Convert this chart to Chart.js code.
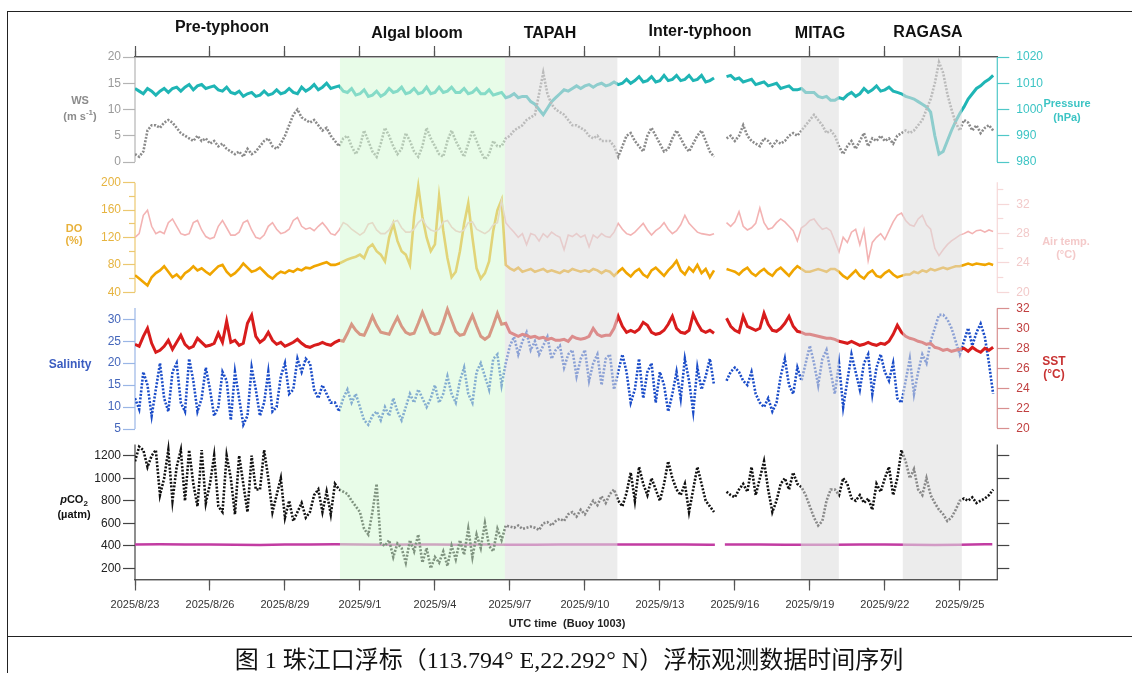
<!DOCTYPE html>
<html>
<head>
<meta charset="utf-8">
<script src="https://cdn.jsdelivr.net/npm/chart.js@4.4.1/dist/chart.umd.min.js"></script>
<style>
  html, body { margin: 0; padding: 0; background: #fff; }
  #wrap { position: relative; width: 1132px; height: 673px; overflow: hidden;
          font-family: "Liberation Sans", Arial, sans-serif; }
  #c { position: absolute; left: 0; top: 0; }
  .frame { position: absolute; left: 7px; top: 11px; width: 1150px; height: 700px;
           border: 1.5px solid #222; box-sizing: border-box; }
  .sep { position: absolute; left: 7px; top: 636px; width: 1140px; border-top: 1.5px solid #222; }
  .t { position: absolute; transform: translate(-50%, -50%); white-space: nowrap; text-align: center; }
  .title { font-weight: bold; font-size: 16px; color: #111; }
  .lab { font-weight: bold; font-size: 11px; }
  .cap { font-family: "Liberation Serif", "Noto Sans CJK SC", serif; font-size: 24px; color: #111; }
  sup, sub { font-size: 8px; line-height: 0; }
</style>
</head>
<body>
<div id="wrap">
  <canvas id="c" width="1132" height="673"></canvas>
  <div class="frame"></div>
  <div class="sep"></div>

  <div class="t title" style="left:222px;top:27px">Pre-typhoon</div>
  <div class="t title" style="left:417px;top:33px">Algal bloom</div>
  <div class="t title" style="left:550px;top:33px">TAPAH</div>
  <div class="t title" style="left:700px;top:31px">Inter-typhoon</div>
  <div class="t title" style="left:820px;top:33px">MITAG</div>
  <div class="t title" style="left:928px;top:32px">RAGASA</div>

  <div class="t lab" style="left:80px;top:108px;line-height:16px;color:#8c8c8c">WS<br>(m s<sup>-1</sup>)</div>
  <div class="t lab" style="left:74px;top:234px;line-height:12px;color:#e8b13a">DO<br>(%)</div>
  <div class="t lab" style="left:70px;top:364px;font-size:12px;color:#3a5cc0">Salinity</div>
  <div class="t lab" style="left:74px;top:507px;line-height:15px;color:#111"><i>p</i>CO<sub>2</sub><br>(µatm)</div>
  <div class="t lab" style="left:1067px;top:110px;line-height:14px;color:#3cc4c4">Pressure<br>(hPa)</div>
  <div class="t lab" style="left:1066px;top:248px;line-height:13px;color:#f4caca">Air temp.<br>(°C)</div>
  <div class="t lab" style="left:1054px;top:368px;line-height:13px;font-size:12px;color:#c83232">SST<br>(°C)</div>
  <div class="t lab" style="left:567px;top:623px;color:#222">UTC time&nbsp;&nbsp;(Buoy 1003)</div>

  <div class="t cap" style="left:569px;top:657px">图 1 珠江口浮标（113.794° E,22.292° N）浮标观测数据时间序列</div>
</div>

<script>
// ── Axes / ticks ────────────────────────────────────────────────
const X_TICK_DAYS   = [0, 3, 6, 9, 12, 15, 18, 21, 24, 27, 30, 33];
const X_TICK_LABELS = ["2025/8/23", "2025/8/26", "2025/8/29", "2025/9/1", "2025/9/4", "2025/9/7",
                       "2025/9/10", "2025/9/13", "2025/9/16", "2025/9/19", "2025/9/22", "2025/9/25"];
const DAY_TICKS   = Array.from({ length: 35 }, (_, i) => i);
const WS_TICKS    = [0, 5, 10, 15, 20];
const PRES_TICKS  = [980, 990, 1000, 1010, 1020];
const DO_TICKS    = [40, 80, 120, 160, 200];
const DO_MINOR    = [60, 100, 140, 180];
const AIR_TICKS   = [20, 24, 28, 32];
const AIR_MINOR   = [22, 26, 30, 34];
const SAL_TICKS   = [5, 10, 15, 20, 25, 30];
const SST_TICKS   = [20, 22, 24, 26, 28, 30, 32];
const PCO2_TICKS  = [200, 400, 600, 800, 1000, 1200];

// ── Event periods (days since 2025/8/23 00:00 UTC) ──────────────
const PERIOD_START = [8.2, 14.8, 26.64, 30.72];
const PERIOD_END   = [14.8, 19.3, 28.16, 33.08];
const PERIOD_KIND  = ["bloom", "typhoon", "typhoon", "typhoon"];

// ── Series, one sample every 4 h, one row per day (null = gap) ──
const WS = [
  1.5, 1, 2, 6, 7, 7,
  6.5, 7.5, 8, 7.5, 6.5, 5.5,
  5, 4.5, 4, 5, 4, 4.5,
  3.5, 4, 3, 3.5, 2.5, 2,
  1.5, 2, 1, 2.5, 1.5, 2,
  3, 4, 4.5, 3, 2.5, 3.5,
  5, 7, 9, 10, 8.5, 8,
  7.5, 8, 7, 6, 6.5, 5,
  4, 3, 4.5, 5, 3, 1.5,
  3, 6, 4, 2, 1, 3.5,
  6.5, 5, 3, 1.5, 2.5, 5.5,
  4, 2, 1, 3, 6.5, 4.5,
  3, 1.5, 1, 4, 6, 4,
  2.5, 1, 3.5, 6, 4, 2,
  0.5, 1.5, 4, 3, 3, 4.5,
  5, 6, 6.5, 7, 8, 8.5,
  9, 13, 17, 13, 11, 10,
  9.5, 9, 8, 7, 7, 6.5,
  6, 5, 4.5, 5, 4, 4,
  4, 3, 1, 3, 5, 5.5,
  4, 3, 2, 5, 6.5, 5,
  3.5, 2, 2.5, 4.5, 6, 4.5,
  3, 2, 3.5, 5, 6, 4,
  2, 1, null, null, 4.5, 5,
  4, 5, 7, 5, 4, 3.5,
  3, 4.5, 4, 3, 4, 3.5,
  4, 5, 5.5, 5, 6, 7,
  8, 9, 8, 7, 5.5, 6,
  5, 3, 1.5, 3, 4, 2.5,
  4, 5.5, 3, 4.5, 4, 5,
  4, 4.5, 3.5, 5, 5.5, 6,
  5.5, 6, 7, 8, 10, 12,
  15, 19, 17, 13, 10, 7.5,
  6, 8, 7.5, 6, 7, 5.5,
  6.5, 7, 6,
];

const PRESSURE = [
  1008, 1007, 1006, 1008, 1007, 1005.5,
  1007, 1008, 1006.5, 1008, 1008.5, 1007,
  1008.5, 1009.5, 1007.5, 1009, 1009.5, 1008,
  1008.5, 1009, 1007.5, 1007, 1008.5, 1006.5,
  1006, 1007, 1005, 1006, 1006.5, 1005,
  1005.5, 1007, 1005.5, 1006, 1007.5, 1006,
  1006.5, 1008, 1006.5, 1006, 1008.5, 1007,
  1008, 1009.5, 1007.5, 1008.5, 1010, 1008,
  1008.5, 1009, 1007, 1006.5, 1008, 1005.5,
  1006, 1007.5, 1005, 1005.5, 1007, 1005,
  1006, 1008, 1006.5, 1007, 1008.5, 1006,
  1006.5, 1008, 1006, 1006.5, 1008.5, 1006,
  1006.5, 1008.5, 1006.5, 1007, 1008.5, 1006.5,
  1006.5, 1008, 1006, 1006.5, 1008, 1006,
  1006, 1007.5, 1005.5, 1006, 1006.5, 1004.5,
  1005, 1006, 1004.5, 1005, 1005, 1003,
  1002, 1000, 998, 1000.5, 1003, 1004.5,
  1006, 1007.5, 1007, 1008, 1009, 1008,
  1009, 1009.5, 1008.5, 1009.5, 1010, 1009,
  1009.5, 1010.5, 1009.5, 1010, 1011.5, 1010,
  1011, 1012.5, 1010.5, 1011, 1012.5, 1010.5,
  1011, 1013, 1011, 1011.5, 1013, 1011,
  1011.5, 1013, 1011, 1011.5, 1013, 1010.5,
  1011, 1012, null, null, 1012.5, 1013,
  1011.5, 1012, 1010.5, 1011, 1011.5, 1009.5,
  1010, 1010.5, 1009, 1009.5, 1010, 1008,
  1008.5, 1009, 1007.5, 1007.5, 1008, 1006.5,
  1006.5, 1006.5, 1005, 1004.5, 1005, 1003.5,
  1003.5, 1004.5, 1004, 1005.5, 1006.5, 1005,
  1006, 1008, 1006.5, 1007.5, 1009, 1007,
  1007.5, 1008.5, 1007, 1006.5, 1006, 1005,
  1004.5, 1004, 1003, 1002, 1001, 999,
  990, 983, 984, 988, 992, 995.5,
  998.5, 1001, 1004, 1006, 1008, 1009,
  1010.5, 1011.5, 1013,
];

const DO = [
  65, 60, 55, 50, 62, 68,
  72, 78, 70, 62, 66, 60,
  68, 72, 78, 72, 75, 70,
  66, 72, 78, 80, 70, 64,
  68, 74, 82, 76, 70, 72,
  76, 70, 64, 60, 66, 70,
  68, 72, 70, 74, 72, 76,
  75, 78, 80, 82, 84, 80,
  80, 82, 85, 88, 90, 92,
  95, 90, 105, 110, 100, 95,
  85, 120, 140, 115, 100, 95,
  80, 150, 195, 150, 120, 100,
  110, 180, 130, 90, 62, 70,
  100, 140, 170, 120, 75, 60,
  68, 85, 130, 160, 175, 80,
  75, 72, 76, 70, 72, 74,
  70, 72, 74, 70, 72, 70,
  68, 72, 70, 74, 72, 70,
  72, 70, 74, 72, 68, 72,
  70, 64, 70, 75, 68, 63,
  70, 74, 66, 62, 72, 76,
  70, 64, 72, 78, 86, 72,
  66, 76, 70, 80, 68, 74,
  62, 72, null, null, 74, 72,
  70, 66, 72, 76, 68, 64,
  70, 74, 68, 64, 72, 76,
  70, 64, 72, 78, 74, 70,
  70, 72, 74, 72, 70, 74,
  74, 70, 64, 60, 66, 72,
  64, 60, 68, 72, 64, 62,
  68, 72, 66, 62, 64, 66,
  66, 70, 68, 72, 70, 74,
  72, 74, 76, 74, 76, 78,
  78, 80, 82, 80, 82, 81,
  80, 82, 80,
];

const AIR_TEMP = [
  27.5, 28, 30.5, 31.2, 29, 28,
  28.3, 28, 29.5, 30, 29, 28,
  27.8, 28, 29.5, 29.8, 28.5, 27.6,
  27.3, 27.5, 29, 29.8, 28.8, 27.8,
  27.8, 28.2, 29.5, 29.8, 28.5, 27.5,
  27.3, 27.8, 29, 29.5, 28.6, 28,
  28.2, 28.6, 29.8, 30.2, 29, 28.6,
  28.8, 28.4, 29, 29.5, 28.8, 28,
  27.8, 28.5, 29.5, 29.2, 28.6, 28.2,
  27.8, 28.2, 29.3, 29.5, 28.5, 28,
  28, 28.5, 29.6, 29.8, 28.8, 28.2,
  28.2, 28.6, 29.5, 30, 29, 28.5,
  28.3, 28.6, 29.6, 29.8, 28.9, 28.4,
  28.2, 28.5, 29.5, 29.6, 28.6, 28.3,
  28, 28.4, 29.2, 29.5, 32.5, 29.5,
  28.8, 28.2, 27.5, 28, 26.5, 28,
  27.8, 27, 28, 27.5, 28.2, 27.8,
  27.5, 25.8, 27.8, 27.6, 28, 27.5,
  27.8, 26.2, 27.8, 27.4, 28, 27.6,
  27.5, 28.2, 29.4, 28.6, 28, 27.8,
  28.2, 28.8, 29.4, 28.5, 27.8, 28.4,
  28.8, 29.5, 28.6, 28, 28.4, 29.2,
  30.5, 29.4, 28.8, 28.2, 28, 27.9,
  27.8, 28, null, null, 29.5, 29,
  29.6, 31, 29, 28.5, 28.8, 29.4,
  31.5, 29.5, 28.6, 28.8, 29.5, 30,
  29.6, 29, 28.4, 27, 28.8, 29.2,
  29.8, 30, 29.2, 28.6, 28.8, 28.4,
  27, 25.5, 27.5, 26.8, 28.2, 28.6,
  26.5, 28.5, 24.3, 26.8, 27.5, 28,
  27.2, 28.4, 29.6, 30.5, 30.8, 29.8,
  29.2, 29, 30, 30.5, 29.2, 28.6,
  26, 25, 25.8, 26.5, 27, 27.4,
  27.8, 28, 28.3, 28, 28.4, 28.5,
  28.2, 28.5, 28.3,
];

const SST = [
  28.4, 28.2, 29.2, 30, 28.5, 27.6,
  27.8, 28.2, 28.8, 27.9, 28.6, 29.3,
  28.4, 28.0, 28.2, 29, 28.6, 28.2,
  28.3, 28.5, 29.5, 28.6, 30.7, 28.6,
  28.8, 28.3, 28.5, 30.5, 31.3, 29.2,
  28.6, 28.9, 29.6, 28.8, 28.4, 28.6,
  28.2, 28.4, 28.6, 28.9, 28.5, 28.2,
  28.1, 28.3, 28.4, 28.6, 28.4, 28.3,
  28.6, 28.8, 28.7, 29.5, 30.4, 29.8,
  29.4, 29.3, 30.2, 31.2, 30.3, 29.6,
  29.5, 29.4, 30.3, 31.1, 30.2, 29.6,
  29.4, 29.5, 30.5, 31.6, 30.6, 29.6,
  29.4, 29.5, 30.6, 31.9, 30.8, 29.7,
  29.3, 29.4, 30.4, 31.3, 30.2, 29.2,
  28.9, 29.2, 30.3, 31.5, 30.4, 30.5,
  29.6, 29.4, 29.2, 29.4, 29.3, 29.1,
  29.2, 29.0, 29.1, 28.9, 29.0, 28.8,
  28.8, 28.9, 28.7, 29.2, 29.0, 28.9,
  29.0, 29.2, 30.0, 29.4, 29.2, 29.3,
  29.3, 30.0, 31.2, 30.2, 29.6, 29.8,
  29.6, 29.9, 30.6, 30.3, 29.6, 29.4,
  29.5, 29.8, 30.4, 31.2, 30.0, 29.6,
  29.5, 29.8, 31.4, 30.5, 29.8, 29.6,
  29.8, 29.5, null, null, 31, 30.2,
  29.8, 29.6, 31.2, 30.2, 30.0, 29.8,
  30.0, 31.5, 30.4, 29.8, 29.7, 30.0,
  30.5, 31.2, 30.2, 29.7, 29.6, 29.4,
  29.4, 29.3, 29.2, 29.1, 29.0, 29.0,
  28.9, 28.7, 28.6, 28.5, 28.7, 28.5,
  28.3, 28.4, 28.6, 28.4, 28.3, 28.5,
  28.4, 28.7, 29.4, 30.3, 29.6, 29.2,
  29.0, 28.9, 28.7, 28.6, 28.4, 28.5,
  28.1, 28.0, 27.8, 27.9, 27.7, 27.8,
  27.9, 28.0, 27.7, 28.1, 27.8, 27.6,
  28.0, 27.8, 28.1,
];

const SALINITY = [
  12, 9.5, 18, 15, 8, 14,
  20, 12, 9, 18, 20, 11,
  9, 21, 16, 9, 12, 19,
  14, 8, 10, 18, 16, 7,
  18, 12, 6, 8, 19, 14,
  8, 11, 18, 9, 10, 17,
  20, 13, 14, 21, 18, 21,
  20, 14, 12, 15, 13, 11,
  11, 9, 12, 14, 11, 13,
  10, 7, 6, 8, 9, 7,
  10, 8, 12, 9, 7, 10,
  13, 11, 14, 12, 10, 12,
  15, 11, 13, 17, 13, 11,
  16, 19, 13, 11, 18, 20,
  17, 14, 21, 22, 15, 20,
  24, 26, 22, 25, 27, 23,
  25, 22, 24, 26, 21, 23,
  24, 19, 22, 23, 17, 21,
  23, 16, 20, 22, 15, 21,
  22, 14, 18, 22, 18, 11,
  14, 21, 12, 18, 20, 11,
  18, 15, 9, 13, 18, 12,
  21, 16, 9, 19, 14, 17,
  21, 15, null, null, 16, 18,
  19, 18, 16, 15, 18, 13,
  11, 10, 12, 9, 11, 17,
  21, 15, 13, 19, 16, 20,
  24, 20, 15, 21, 23, 18,
  13, 20, 10, 16, 22, 18,
  14, 20, 22, 13, 19, 22,
  18, 16, 20, 12, 11, 16,
  21, 13, 18, 22, 20, 25,
  28, 31, 31, 30, 28, 25,
  22, 25, 28, 24, 27, 29,
  26, 20, 13,
];

const PCO2 = [
  1150, 1280, 1250, 1100, 1200, 1250,
  850, 1000, 1250, 800, 1100, 1250,
  800, 1250, 950, 750, 1250, 780,
  950, 1200, 750, 700, 1200, 1000,
  680, 1200, 950, 700, 1200, 900,
  900, 1250, 1000, 700, 850, 1000,
  650, 800, 620, 700, 780, 650,
  700, 850, 900, 700, 880, 680,
  950, 900, 880, 860, 800, 750,
  700, 550, 500, 700, 950, 420,
  400, 450, 300, 420, 380, 250,
  450, 350, 500, 250, 380, 200,
  300, 250, 350, 220, 400, 280,
  450, 320, 550, 300, 500, 380,
  600, 400, 350, 550, 450, 580,
  570, 560, 580, 550, 560, 570,
  560, 540, 600, 610, 580, 620,
  640, 620, 680, 700, 660, 720,
  680, 740, 800, 760, 840, 780,
  860, 900, 800, 750, 870, 1050,
  800, 1100, 950, 850, 1000, 900,
  800, 950, 1150, 1000, 900, 850,
  950, 700, 900, 1100, 950, 800,
  750, 700, null, null, 880, 850,
  830, 900, 950, 880, 1100, 850,
  1000, 1150, 900, 700, 800, 950,
  1000, 900, 1050, 950, 920, 850,
  750, 650, 580, 620, 800, 900,
  900, 850, 1000, 950, 820, 800,
  850, 780, 820, 720, 950, 880,
  1000, 1100, 850, 1000, 1250, 1150,
  1000, 1080, 900, 850, 1000, 850,
  780, 720, 680, 620, 650, 720,
  800, 820, 800, 830, 780, 800,
  820, 850, 900,
];

// atmospheric pCO2, roughly daily
const ATM_DAYS = [0, 1, 2, 3, 4, 5, 6, 7, 8, 9, 10, 11, 12, 13, 14, 15, 16, 17, 18, 19, 20, 21, 22, 23,
                  23.2, 23.4, 23.6, 24, 25, 26, 27, 28, 29, 30, 31, 32, 33, 34, 34.3];
const ATM_PCO2 = [412, 413, 412, 411, 410, 408, 411, 412, 413, 412, 410, 411, 412, 410, 411, 410, 409, 411,
                  412, 411, 412, 411, 412, 410, 410, null, 411, 412, 411, 410, 409, 410, 412, 411, 409,
                  406, 410, 413, 414];

// ── Layout (px) ─────────────────────────────────────────────────
const W = 1132, H = 673;
const LEFT = 135, RIGHT = 997.3, TOP = 57, BOTTOM = 579.5;
const X_MAX = 34.5;
const STEP = 4 / 24;

Chart.defaults.font.family = "'Liberation Sans', Arial, sans-serif";

// ── Helpers ─────────────────────────────────────────────────────
// a y scale spanning the whole plot, tuned so that lo/hi land on pixel pLo/pHi
function bandAxis(position, lo, hi, pLo, pHi, ticks, o) {
  const k = (pLo - pHi) / (hi - lo);
  return {
    type: "linear",
    position,
    min: lo - (BOTTOM - pLo) / k,
    max: hi + (pHi - TOP) / k,
    afterFit: s => { s.width = 0; },
    afterBuildTicks: s => { s.ticks = ticks.map(v => ({ value: v })); },
    border: { display: false },
    grid: { drawOnChartArea: false, drawTicks: true, tickLength: o.len || 12,
            tickColor: o.line, color: o.line, tickWidth: 1.2 },
    ticks: { display: !!o.text, color: o.text, padding: position === "left" ? 2 : 7,
             font: { size: 12 }, autoSkip: false, callback: v => String(v) },
  };
}

function xAxis(position, ticks, len, labels) {
  return {
    type: "linear",
    position,
    min: 0,
    max: X_MAX,
    afterFit: s => { s.height = 0; },
    afterBuildTicks: s => { s.ticks = ticks.map(v => ({ value: v })); },
    border: { display: true, color: "#555", width: 1.2 },
    grid: { drawOnChartArea: false, drawTicks: true, tickLength: len, tickColor: "#555", tickWidth: 1.2 },
    ticks: { display: labels, color: "#333", font: { size: 11 }, padding: 8, maxRotation: 0,
             autoSkip: false, callback: v => X_TICK_LABELS[X_TICK_DAYS.indexOf(v)] },
  };
}

function series(values, yAxisID, color, width, dash) {
  return {
    data: values.map((v, i) => ({ x: i * STEP, y: v })),
    xAxisID: "x",
    yAxisID,
    borderColor: color,
    borderWidth: width,
    borderDash: dash || [],
    pointRadius: 0,
    tension: 0,
    spanGaps: false,
  };
}

// axis lines limited to each panel
const BANDS = [
  { id: "ws",   side: "left",  lo: 0,   hi: 20,   color: "#b4b4b4" },
  { id: "pres", side: "right", lo: 980, hi: 1020, color: "#50c8c8" },
  { id: "do",   side: "left",  lo: 40,  hi: 200,  color: "#ecc870" },
  { id: "air",  side: "right", lo: 20,  hi: 35,   color: "#f6d8d8" },
  { id: "sal",  side: "left",  lo: 5,   hi: 32.6, color: "#9ab6e6" },
  { id: "sst",  side: "right", lo: 20,  hi: 32,   color: "#d89090" },
  { id: "pco2", side: "left",  lo: 100, hi: 1300, color: "#444" },
  { id: "pco2r", side: "right", lo: 100, hi: 1300, color: "#444" },
];

// the scales are squeezed to zero size for layout; widen their boxes outward
// afterwards so tick labels are not clipped away
const widenScales = {
  id: "widenScales",
  afterLayout(chart) {
    Object.values(chart.scales).forEach(s => {
      if (s.position === "left") s.left = 0;
      else if (s.position === "right") s.right = W;
      else if (s.position === "bottom") s.bottom = H;
      else if (s.position === "top") s.top = 0;
      s.width = s.right - s.left;
      s.height = s.bottom - s.top;
    });
  },
};

const axisLines = {
  id: "axisLines",
  beforeDatasetsDraw(chart) {
    const { ctx, chartArea } = chart;
    ctx.save();
    ctx.lineWidth = 1.2;
    BANDS.forEach(b => {
      const s = chart.scales[b.id];
      const x = b.side === "left" ? chartArea.left : chartArea.right;
      ctx.strokeStyle = b.color;
      ctx.beginPath();
      ctx.moveTo(x, s.getPixelForValue(b.hi));
      ctx.lineTo(x, s.getPixelForValue(b.lo));
      ctx.stroke();
    });
    ctx.restore();
  },
};

// translucent wash over the event periods (fades the data beneath)
const periods = {
  id: "periods",
  afterDatasetsDraw(chart) {
    const { ctx, chartArea } = chart;
    const xs = chart.scales.x;
    ctx.save();
    PERIOD_START.forEach((s, i) => {
      const x1 = xs.getPixelForValue(s), x2 = xs.getPixelForValue(PERIOD_END[i]);
      ctx.fillStyle = PERIOD_KIND[i] === "bloom" ? "rgba(214,250,214,0.56)" : "rgba(222,222,222,0.58)";
      ctx.fillRect(x1, chartArea.top + 1, x2 - x1, chartArea.bottom - chartArea.top - 1.5);
    });
    ctx.restore();
  },
};

// ═══════════════════════════════════════════════════════════════
// CHART
// ═══════════════════════════════════════════════════════════════
const atm = {
  data: ATM_DAYS.map((d, i) => ({ x: d, y: ATM_PCO2[i] })),
  xAxisID: "x", yAxisID: "pco2",
  borderColor: "#c23ca2", borderWidth: 2.5, pointRadius: 0, spanGaps: false,
};

new Chart(document.getElementById("c"), {
  type: "line",
  data: {
    datasets: [
      series(WS, "ws", "#8a8a8a", 2.6, [2, 1.5]),
      series(PRESSURE, "pres", "#1fb5b5", 3),
      series(AIR_TEMP, "air", "#f3b3b3", 1.6),
      series(DO, "do", "#f0a500", 2.6),
      series(SST, "sst", "#d81c1c", 3),
      series(SALINITY, "sal", "#1a4cc8", 2.6, [2, 1.6]),
      series(PCO2, "pco2", "#111111", 2.6, [2, 1.6]),
      atm,
    ],
  },
  options: {
    responsive: false,
    animation: false,
    devicePixelRatio: 1,
    layout: { padding: { left: LEFT, right: W - RIGHT, top: TOP, bottom: H - BOTTOM } },
    plugins: { legend: { display: false }, tooltip: { enabled: false } },
    scales: {
      x:      xAxis("bottom", X_TICK_DAYS, 11, true),
      xMin:   xAxis("bottom", DAY_TICKS, 6, false),
      xTop:   xAxis("top", X_TICK_DAYS, 11, false),
      xTopMin: xAxis("top", DAY_TICKS, 6, false),
      ws:     bandAxis("left", 0, 20, 162, 57, WS_TICKS, { line: "#b4b4b4", text: "#9a9a9a" }),
      pres:   bandAxis("right", 980, 1020, 162, 57, PRES_TICKS, { line: "#50c8c8", text: "#3cc4c4" }),
      do:     bandAxis("left", 40, 200, 292.3, 182.7, DO_TICKS, { line: "#ecc870", text: "#e6b440" }),
      doMin:  bandAxis("left", 40, 200, 292.3, 182.7, DO_MINOR, { line: "#ecc870", len: 6 }),
      air:    bandAxis("right", 20, 35, 292.3, 182.3, AIR_TICKS, { line: "#f6d8d8", text: "#f2caca" }),
      airMin: bandAxis("right", 20, 35, 292.3, 182.3, AIR_MINOR, { line: "#f6d8d8", len: 6 }),
      sal:    bandAxis("left", 5, 30, 429, 319.3, SAL_TICKS, { line: "#9ab6e6", text: "#4466bb" }),
      sst:    bandAxis("right", 20, 32, 428.3, 308.3, SST_TICKS, { line: "#d89090", text: "#c04040" }),
      pco2:   bandAxis("left", 200, 1200, 568.3, 455.7, PCO2_TICKS, { line: "#444", text: "#222" }),
      pco2r:  bandAxis("right", 200, 1200, 568.3, 455.7, PCO2_TICKS, { line: "#444" }),
    },
  },
  plugins: [widenScales, axisLines, periods],
});
</script>
</body>
</html>
